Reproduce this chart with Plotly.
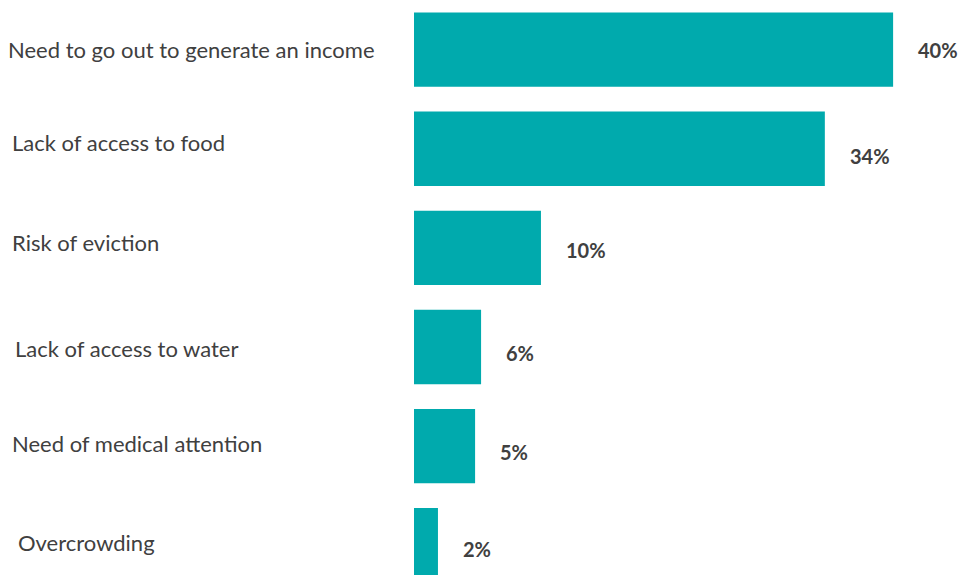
import plotly.graph_objects as go

categories = ["Need to go out to generate an income", "Lack of access to food", "Risk of eviction",
              "Lack of access to water", "Need of medical attention", "Overcrowding"]
values = [40.0, 34.3, 10.6, 5.6, 5.1, 2.0]
value_labels = ["40%", "34%", "10%", "6%", "5%", "2%"]

W, H = 961, 575
ML, MR = 414, 8
PW = W - ML - MR
XMAX = 45
STEP = 99  # px per category

ypos = list(range(len(categories)))
fig = go.Figure(go.Bar(
    x=values, y=ypos, orientation="h",
    marker=dict(color="#00AAAD", line=dict(width=0)),
    width=0.75, hoverinfo="skip",
))

# category labels (left aligned)
label_x = [6, 10, 10, 13, 10, 16]
label_dy = [0, -6, -5, 2, -3, -3]
for i, c in enumerate(categories):
    fig.add_annotation(x=(label_x[i] - ML) / PW, xref="paper", y=i, yref="y",
                       text=c, showarrow=False, xanchor="left", yanchor="middle",
                       yshift=-label_dy[i],
                       font=dict(family="Lato, Carlito, sans-serif", size=22, color="#404040"))
# value labels
val_dy = [0, 7, 2, 6, 6, 4]
for i, (v, t) in enumerate(zip(values, value_labels)):
    fig.add_annotation(x=v, y=i, text=f"<b>{t}</b>", showarrow=False,
                       xanchor="left", yanchor="middle", xshift=23, yshift=-val_dy[i],
                       font=dict(family="Lato, Carlito, sans-serif", size=20, color="#404040"))

fig.update_layout(
    width=W, height=H,
    margin=dict(l=ML, r=MR, t=0, b=0),
    plot_bgcolor="white", paper_bgcolor="white",
    showlegend=False,
    xaxis=dict(range=[0, XMAX], visible=False, fixedrange=True),
    yaxis=dict(range=[-0.5 + H / STEP - 0.008, -0.5], visible=False, fixedrange=True),
)
fig.write_html("out.html")
